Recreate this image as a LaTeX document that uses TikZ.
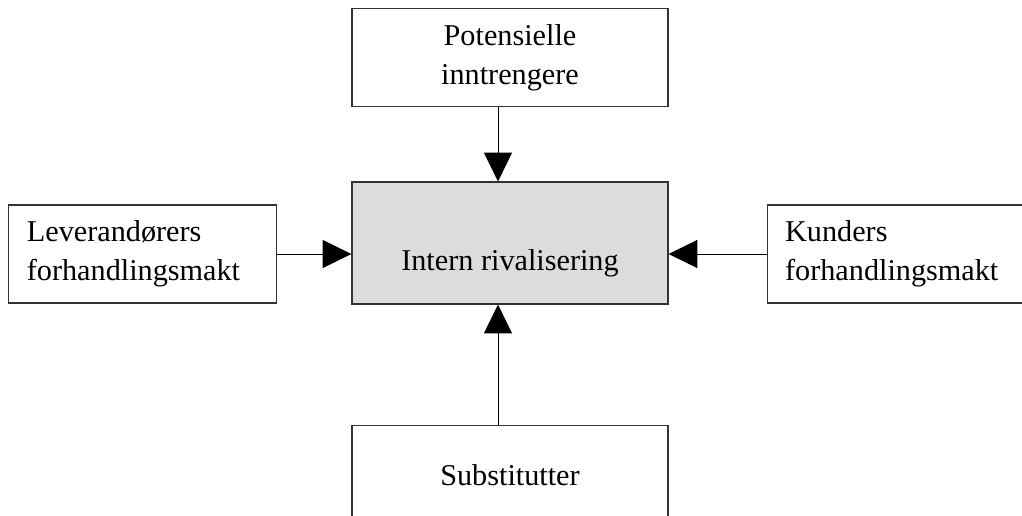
\documentclass[tikz,border=0pt]{standalone}
\usepackage{fontspec}
\setmainfont{Liberation Serif}
\usetikzlibrary{arrows.meta, positioning, calc}
\definecolor{corefill}{HTML}{DCDCDC}
\definecolor{edge}{HTML}{333333}

\begin{document}
\begin{tikzpicture}[
    >={Triangle[length=0.72cm, width=0.7cm]},
    force/.style={
      draw=edge, rectangle, line width=0.8pt,
      minimum width=7.9cm, minimum height=2.45cm, align=center,
      font=\fontsize{21.5}{27.5}\selectfont, fill=white},
    side/.style={
      force, minimum width=6.7cm, align=left, text width=5.8cm},
    arr/.style={->, line width=0.7pt, color=black},
  ]

  % frame
  \clip (-12.75,-6.8) rectangle (12.8,6.075);

  % ── Centre ──
  \node[force, fill=corefill, minimum height=3.05cm] (core) {};
  \node[font=\fontsize{21.5}{27.5}\selectfont, yshift=-0.5cm]
    (corelabel) at (core.center) {Intern rivalisering};

  % ── Surrounding forces ──
  \node[force, above=1.85cm of core] (entrants)
    {Potensielle\\inntrengere};
  \node[force, below=3.02cm of core] (subst) {Substitutter};
  \node[side, left=1.85cm of core, yshift=-0.275cm] (suppliers)
    {Leverandørers\\forhandlingsmakt};
  \node[side, right=2.45cm of core, yshift=-0.275cm] (buyers)
    {Kunders\\forhandlingsmakt};

  % ── Arrows ──
  \coordinate (entfoot) at ([xshift=-0.3cm]entrants.south);
  \coordinate (subhead) at ([xshift=-0.3cm]subst.north);
  \draw[arr] (entfoot) -- (entfoot |- core.north);
  \draw[arr] (subhead) -- (subhead |- core.south);
  \draw[arr] (suppliers.east) -- (suppliers.east -| core.west);
  \draw[arr] (buyers.west) -- (buyers.west -| core.east);

\end{tikzpicture}
\end{document}
